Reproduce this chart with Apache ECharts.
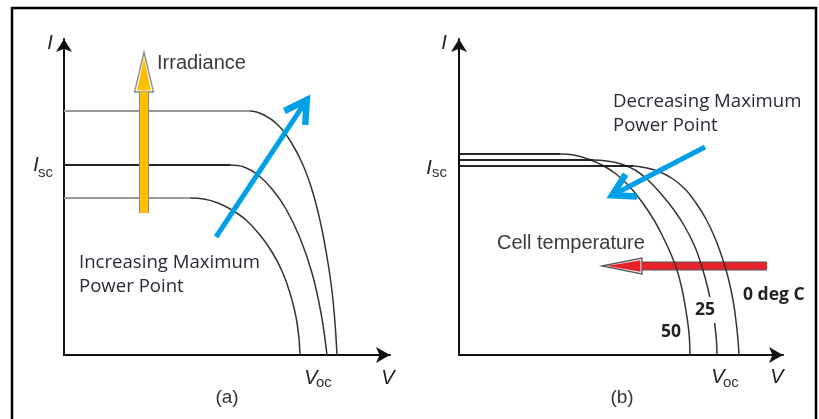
<!DOCTYPE html>
<html><head><meta charset="utf-8">
<script src="https://cdn.jsdelivr.net/npm/echarts@6/dist/echarts.min.js"></script>
<style>html,body{margin:0;padding:0;background:#fff}#c{width:819px;height:419px}</style>
</head><body><div id="c"></div>
<script>
// ---- Panel (a): I-V curves for three irradiance levels (x = V, y = I, chart units)
const curveHigh = [[0,244],[170,244],[186,244],[200,240],[214,230],[227,213],[239,190],[249,162],[257,130],[263,98],[268,64],[271,32],[273,0]];
const curveMid  = [[0,190],[150,190],[166,190],[180,188],[194,180],[208,166],[222,146],[236,117],[248,82],[257,42],[263,0]];
const curveLow  = [[0,157],[110,157],[126,157],[140,156],[154,152],[168,145],[182,135],[196,120],[208,103],[218,84],[226,62],[232,38],[235,16],[236,0]];
// ---- Panel (b): I-V curves for three cell temperatures (deg C)
const curveT0   = [[0,189],[160,189],[174,189],[188,187],[201,183],[214,176],[226,166],[237,152],[247,136],[256,117],[263,98],[269,78],[274,55],[277,34],[279,15],[280,0]];
const curveT25  = [[0,195],[120,195],[134,195],[148,194],[162,191],[176,185],[190,174],[203,160],[215,145],[226,128],[236,108],[243,88],[249,66],[254,42],[257,20],[258,0]];
const curveT50  = [[0,201],[88,201],[101,201],[115,200],[129,196],[143,190],[157,181],[170,169],[183,153],[195,135],[203,120],[211,103],[218,85],[223,66],[227,44],[230,22],[231,0]];
// ---- Arrows [x1, y1, x2(tip), y2(tip)]
const arrowIrradiance = [[80,142,80,303]];
const arrowMppUp      = [[152,118,246,260]];
const arrowMppDown    = [[246,208,148,157]];
const arrowTemp       = [[308,89,143,89]];
// ---- Annotations
const notesA = [
  {t:'I', at:[-14,312], s:'ital', a:'center'},
  {t:'I', at:[-28,190], s:'ital', a:'center'},
  {t:'sc', at:[-26,182], s:'sub'},
  {t:'V', at:[247,-23], s:'ital', a:'center'},
  {t:'oc', at:[252,-28], s:'sub'},
  {t:'V', at:[324,-23], s:'ital', a:'center'},
  {t:'(a)', at:[163,-43], s:'cap', a:'center'},
  {t:'Irradiance', at:[93,292], s:'arial'},
  {t:'Increasing Maximum', at:[15,92], s:'cal'},
  {t:'Power Point', at:[15,68], s:'cal'}
];
const notesB = [
  {t:'I', at:[-15,312], s:'ital', a:'center'},
  {t:'I', at:[-30,187], s:'ital', a:'center'},
  {t:'sc', at:[-27,182], s:'sub'},
  {t:'V', at:[259,-22], s:'ital', a:'center'},
  {t:'oc', at:[264,-28], s:'sub'},
  {t:'V', at:[318,-22], s:'ital', a:'center'},
  {t:'(b)', at:[163,-43], s:'cap', a:'center'},
  {t:'Decreasing Maximum', at:[154,253], s:'cal'},
  {t:'Power Point', at:[154,229], s:'cal'},
  {t:'Cell temperature', at:[38,112], s:'arial'},
  {t:'0 deg C', at:[284,60], s:'calb'},
  {t:'25', at:[246,45], s:'calbg', a:'center'},
  {t:'50', at:[212,23], s:'calb', a:'center'}
];

const STY = {
  ital:{font:'italic 20px "Liberation Sans", Arial', fill:'#222'},
  sub:{font:'15px "Liberation Sans", Arial', fill:'#333'},
  cap:{font:'19px "Liberation Sans", Arial', fill:'#333'},
  arial:{font:'20px "Liberation Sans", Arial', fill:'#3a3a3a'},
  cal:{font:'18.6px "Open Sans"', fill:'#2a2a36'},
  calb:{font:'bold 17.5px "Open Sans"', fill:'#222'},
  calbg:{font:'bold 17.5px "Open Sans"', fill:'#222', backgroundColor:'#fff', padding:[4,4]}
};

function textSeries(notes, gi){
  return {type:'custom', coordinateSystem:'cartesian2d', xAxisIndex:gi, yAxisIndex:gi, clip:false, silent:true, z:10,
    data: notes.map(n => n.at),
    renderItem: function(params, api){
      const n = notes[params.dataIndex];
      const p = api.coord([api.value(0), api.value(1)]);
      return {type:'text', x:p[0], y:p[1], style:Object.assign({text:n.t, align:n.a||'left', verticalAlign:'middle'}, STY[n.s])};
    }};
}

function blockArrow(o){
  return function(params, api){
    const p1 = api.coord([api.value(0), api.value(1)]);
    const p2 = api.coord([api.value(2), api.value(3)]);
    const dx=p2[0]-p1[0], dy=p2[1]-p1[1], L=Math.hypot(dx,dy), ux=dx/L, uy=dy/L, nx=-uy, ny=ux;
    const bx=p2[0]-ux*o.head, by=p2[1]-uy*o.head, w=o.half, iw=w*0.72;
    const outer=[[p2[0],p2[1]],[bx+nx*w,by+ny*w],[bx-nx*w,by-ny*w]];
    const ti=[p2[0]-ux*o.head*0.12, p2[1]-uy*o.head*0.12];
    const ib=[bx+ux*1.5, by+uy*1.5];
    const inner=[ti,[ib[0]+nx*iw,ib[1]+ny*iw],[ib[0]-nx*iw,ib[1]-ny*iw]];
    const shaft={x1:p1[0],y1:p1[1],x2:bx,y2:by};
    return {type:'group', children:[
      {type:'line', shape:shaft, style:{stroke:o.edge, lineWidth:o.shaft+2}},
      {type:'polygon', shape:{points:outer}, style:{fill:'#fff', stroke:o.edge, lineWidth:1.3}},
      {type:'polygon', shape:{points:inner}, style:{fill:o.fill}},
      {type:'line', shape:shaft, style:{stroke:o.fill, lineWidth:o.shaft}}
    ]};
  };
}
function chevronArrow(o){
  return function(params, api){
    const p1 = api.coord([api.value(0), api.value(1)]);
    const p2 = api.coord([api.value(2), api.value(3)]);
    const dx=p2[0]-p1[0], dy=p2[1]-p1[1], L=Math.hypot(dx,dy), ux=dx/L, uy=dy/L;
    const t=[p2[0]-ux*o.hw*0.9, p2[1]-uy*o.hw*0.9];
    const th=o.angle*Math.PI/180, bx=-ux, by=-uy;
    const a1=[t[0]+o.arm*(bx*Math.cos(th)-by*Math.sin(th)), t[1]+o.arm*(bx*Math.sin(th)+by*Math.cos(th))];
    const a2=[t[0]+o.arm*(bx*Math.cos(-th)-by*Math.sin(-th)), t[1]+o.arm*(bx*Math.sin(-th)+by*Math.cos(-th))];
    return {type:'group', children:[
      {type:'line', shape:{x1:p1[0],y1:p1[1],x2:t[0],y2:t[1]}, style:{stroke:o.color, lineWidth:o.w}},
      {type:'polyline', shape:{points:[a1,t,a2]}, style:{stroke:o.color, lineWidth:o.hw, lineJoin:'miter', fill:null}}
    ]};
  };
}
function arrowSeries(data, gi, render, z){
  return {type:'custom', coordinateSystem:'cartesian2d', xAxisIndex:gi, yAxisIndex:gi, clip:false, silent:true, z:z,
    encode:{x:[0,2], y:[1,3]}, data:data, renderItem:render};
}
function curve(data, gi, color, width){
  return {type:'line', xAxisIndex:gi, yAxisIndex:gi, data:data, smooth:0.4, symbol:'none', clip:false, silent:true, z:4,
    lineStyle:{color:color, width:width}};
}
function flat(data, gi, color, width){
  return {type:'line', xAxisIndex:gi, yAxisIndex:gi, data:data.slice(0,3), symbol:'none', clip:false, silent:true, z:5,
    lineStyle:{color:color, width:width}};
}

const axisLineX = {show:true, onZero:false, symbol:['none','arrow'], symbolSize:[12,14], lineStyle:{color:'#111', width:2}};
const axisLineY = {show:true, onZero:false, symbol:['none','arrow'], symbolSize:[12,13], lineStyle:{color:'#111', width:2}};
function vAxis(gi, max, line){
  return {type:'value', gridIndex:gi, min:0, max:max, axisLine:line, axisTick:{show:false}, axisLabel:{show:false}, splitLine:{show:false}};
}

const chart = echarts.init(document.getElementById('c'));
chart.setOption({
  animation:false,
  backgroundColor:'#fff',
  graphic:[{type:'rect', silent:true, z:-10, shape:{x:12, y:8, width:804, height:430}, style:{fill:'none', stroke:'#000', lineWidth:2.5}}],
  grid:[{left:64, top:39, width:326, height:316},{left:459, top:39, width:324, height:316}],
  xAxis:[vAxis(0,326,axisLineX), vAxis(1,324,axisLineX)],
  yAxis:[vAxis(0,316,axisLineY), vAxis(1,316,axisLineY)],
  series:[
    arrowSeries(arrowTemp, 1, blockArrow({fill:'#e8222b', edge:'#555', shaft:7, head:40, half:8}), 2),
    curve(curveHigh, 0, '#333', 1.5),
    curve(curveMid, 0, '#333', 1.5),
    curve(curveLow, 0, '#333', 1.5),
    flat(curveHigh, 0, '#9a9a9a', 2.2),
    flat(curveMid, 0, '#111', 1.7),
    flat(curveLow, 0, '#9a9a9a', 2.2),
    curve(curveT0, 1, '#333', 1.5),
    curve(curveT25, 1, '#333', 1.5),
    curve(curveT50, 1, '#333', 1.5),
    flat(curveT0, 1, '#111', 1.7),
    flat(curveT25, 1, '#111', 1.7),
    flat(curveT50, 1, '#111', 1.7),
    arrowSeries(arrowIrradiance, 0, blockArrow({fill:'#ffc000', edge:'#888', shaft:8, head:40, half:9.5}), 8),
    arrowSeries(arrowMppUp, 0, chevronArrow({color:'#00a0e6', w:5, hw:6.5, arm:25, angle:30}), 8),
    arrowSeries(arrowMppDown, 1, chevronArrow({color:'#00a0e6', w:5, hw:6.5, arm:25, angle:30}), 8),
    textSeries(notesA, 0),
    textSeries(notesB, 1)
  ]
});
</script></body></html>
